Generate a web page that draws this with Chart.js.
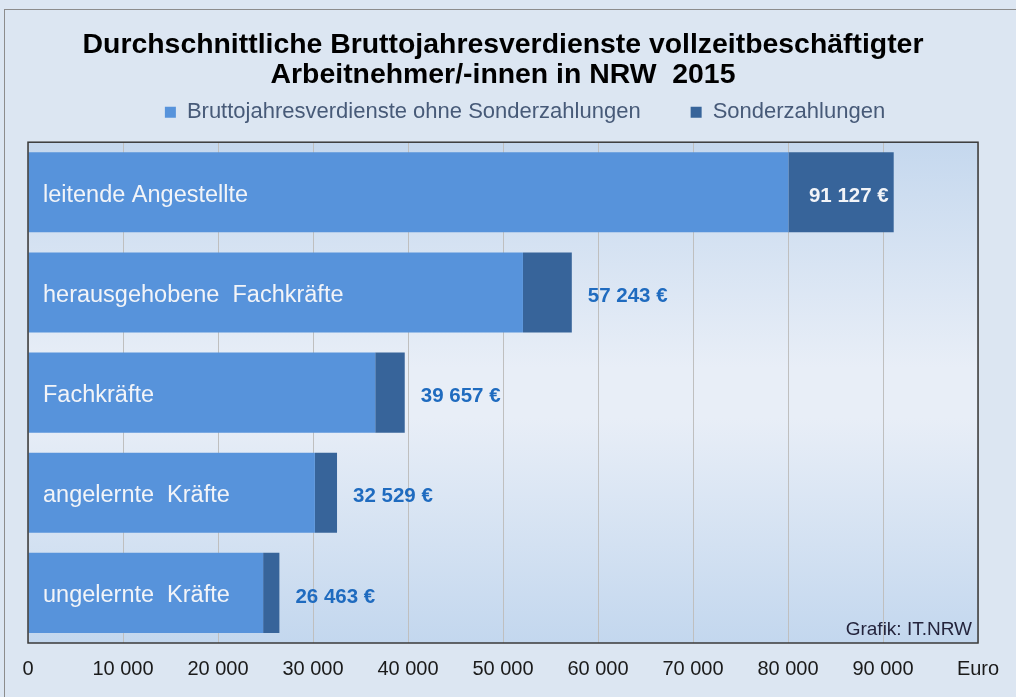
<!DOCTYPE html>
<html>
<head>
<meta charset="utf-8">
<script src="https://cdn.jsdelivr.net/npm/chart.js@4/dist/chart.umd.min.js"></script>
<style>
  html, body { margin: 0; padding: 0; background: #dce6f2; }
  canvas { display: block; }
</style>
</head>
<body>
<canvas id="chart" width="1016" height="697"></canvas>
<script>
// Daten (Euro)
var categories = ['leitende Angestellte', 'herausgehobene  Fachkräfte', 'Fachkräfte', 'angelernte  Kräfte', 'ungelernte  Kräfte'];
var ohneSonder = [80050, 52100, 36550, 30200, 24750];
var sonder = [11077, 5143, 3107, 2329, 1713];
var totalLabels = ['91 127 €', '57 243 €', '39 657 €', '32 529 €', '26 463 €'];
var seriesNames = ['Bruttojahresverdienste ohne Sonderzahlungen', 'Sonderzahlungen'];
var tickMax = 100000;
var tickStep = 10000;

var FONT = '"Liberation Sans", Arial, sans-serif';

function fmt(v) {
    return String(v).replace(/\B(?=(\d{3})+(?!\d))/g, ' ');
}

// Hintergrund, Rahmen und Beschriftungen
var decor = {
    id: 'decor',
    afterLayout: function (chart) {
        // Legende etwas nach rechts, wie im Original
        chart.legend.left += 22;
        chart.legend.right += 22;
    },
    beforeDraw: function (chart) {
        var ctx = chart.ctx, a = chart.chartArea;
        ctx.save();
        ctx.fillStyle = '#dce6f2';
        ctx.fillRect(0, 0, chart.width, chart.height);
        ctx.strokeStyle = '#8c8c8c';
        ctx.lineWidth = 1;
        ctx.strokeRect(4.5, 9.5, chart.width + 20, chart.height + 20);
        var g = ctx.createLinearGradient(0, a.top, 0, a.bottom);
        g.addColorStop(0, '#c5d8ee');
        g.addColorStop(0.45, '#e8eef7');
        g.addColorStop(0.55, '#e8eef7');
        g.addColorStop(1, '#c3d7ee');
        ctx.fillStyle = g;
        ctx.fillRect(a.left, a.top, a.right - a.left, a.bottom - a.top);
        ctx.restore();
    },
    afterDatasetsDraw: function (chart) {
        var ctx = chart.ctx, a = chart.chartArea;
        var xs = chart.scales.x, ys = chart.scales.y;
        ctx.save();
        ctx.textBaseline = 'middle';
        categories.forEach(function (c, i) {
            var y = ys.getPixelForValue(i) + 3;
            ctx.font = '23.5px ' + FONT;
            ctx.fillStyle = '#f2f4f8';
            ctx.textAlign = 'left';
            ctx.fillText(c, a.left + 15, y);

            var end = xs.getPixelForValue(ohneSonder[i] + sonder[i]);
            ctx.font = 'bold 20.5px ' + FONT;
            if (i === 0) {
                ctx.fillStyle = '#f2f4f8';
                ctx.textAlign = 'right';
                ctx.fillText(totalLabels[i], end - 5, y + 1);
            } else {
                ctx.fillStyle = '#1f6bbf';
                ctx.textAlign = 'left';
                ctx.fillText(totalLabels[i], end + 16, y + 1);
            }
        });
        ctx.strokeStyle = '#3a3a3a';
        ctx.lineWidth = 1.5;
        ctx.strokeRect(a.left, a.top, a.right - a.left, a.bottom - a.top);

        ctx.font = '19px ' + FONT;
        ctx.fillStyle = '#24243c';
        ctx.textAlign = 'right';
        ctx.textBaseline = 'alphabetic';
        ctx.fillText('Grafik: IT.NRW', a.right - 6, a.bottom - 8);
        ctx.restore();
    }
};

new Chart(document.getElementById('chart'), {
    type: 'bar',
    data: {
        labels: categories,
        datasets: [
            { label: seriesNames[0], data: ohneSonder, backgroundColor: '#5793db' },
            { label: seriesNames[1], data: sonder, backgroundColor: '#37649a' }
        ]
    },
    options: {
        indexAxis: 'y',
        responsive: false,
        animation: false,
        devicePixelRatio: 1,
        layout: { padding: { left: 28, right: 38, top: 3, bottom: 2 } },
        datasets: { bar: { barPercentage: 0.8, categoryPercentage: 1 } },
        scales: {
            x: {
                stacked: true,
                min: 0,
                max: tickMax,
                border: { display: false },
                grid: { color: '#bfbfbf', lineWidth: 1, drawTicks: false },
                ticks: {
                    stepSize: tickStep,
                    padding: 14,
                    maxRotation: 0,
                    autoSkip: false,
                    color: '#1a1a1a',
                    font: { family: FONT, size: 20 },
                    callback: function (v) { return v === tickMax ? 'Euro' : fmt(v); }
                }
            },
            y: { stacked: true, display: false }
        },
        plugins: {
            title: {
                display: true,
                text: ['Durchschnittliche Bruttojahresverdienste vollzeitbeschäftigter', 'Arbeitnehmer/-innen in NRW  2015'],
                color: '#000000',
                font: { family: FONT, size: 28.4, weight: 'bold', lineHeight: 1.06 },
                padding: { top: 27, bottom: -39 }
            },
            // leerer Abstand zwischen Legende und Diagramm
            subtitle: {
                display: true,
                text: '',
                weight: 900,
                font: { size: 1, lineHeight: 1 },
                padding: { top: 8, bottom: 0 }
            },
            legend: {
                display: true,
                position: 'top',
                labels: {
                    boxWidth: 11,
                    boxHeight: 11,
                    padding: 50,
                    color: '#475a78',
                    font: { family: FONT, size: 22 }
                }
            },
            tooltip: { enabled: false }
        }
    },
    plugins: [decor]
});
</script>
</body>
</html>
